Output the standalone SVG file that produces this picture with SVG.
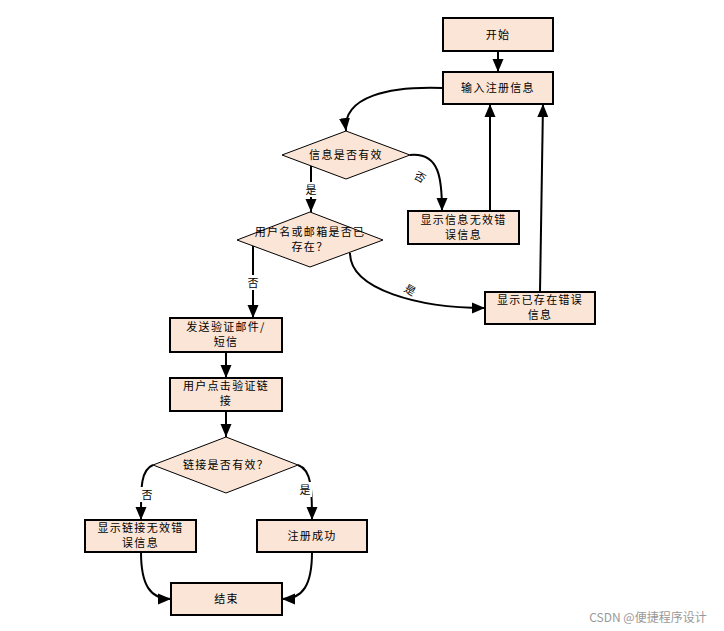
<svg xmlns="http://www.w3.org/2000/svg" width="724" height="631" viewBox="0 0 724 631">
<defs>
<style>
.box{fill:#fbe5d6;stroke:#000;stroke-width:2}
.dia{fill:#fbe5d6;stroke:#000;stroke-width:1}
.t{font-family:"Noto Sans CJK SC","Liberation Sans",sans-serif;font-size:11px;fill:#000;text-anchor:middle;letter-spacing:1.3px}
.lbl{font-family:"Noto Sans CJK SC","Liberation Sans",sans-serif;font-size:11px;fill:#000;text-anchor:middle}
.bg{fill:#fff}
.c{fill:none;stroke:#000;stroke-width:2}
</style>
<marker id="ah" markerUnits="userSpaceOnUse" markerWidth="14" markerHeight="14" viewBox="0 0 14 14" refX="13" refY="7" orient="auto">
<path d="M0,1.5 L13,7 L0,12.5 Z" fill="#000"/>
</marker>
</defs>
<rect width="724" height="631" fill="#fff"/>
<g id="connectors">
<path class="c" d="M498,51 L498,72" marker-end="url(#ah)"/>
<path class="c" d="M443,88 C390,86 342,96 346,131" marker-end="url(#ah)"/>
<path class="c" d="M410,155 C440,152 442,180 442,211" marker-end="url(#ah)"/>
<path class="c" d="M490,211 L490,104" marker-end="url(#ah)"/>
<path class="c" d="M540,292 L543,104" marker-end="url(#ah)"/>
<path class="c" d="M311,166 L311,212" marker-end="url(#ah)"/>
<path class="c" d="M253,246 L253,318" marker-end="url(#ah)"/>
<path class="c" d="M350,253 C350,290 420,308 485,308" marker-end="url(#ah)"/>
<path class="c" d="M226,352 L226,378" marker-end="url(#ah)"/>
<path class="c" d="M226,411 L226,437" marker-end="url(#ah)"/>
<path class="c" d="M153,465 C140,470 141,490 141,520" marker-end="url(#ah)"/>
<path class="c" d="M298,465 C312,470 312,490 312,520" marker-end="url(#ah)"/>
<path class="c" d="M141,552 C141,585 150,599 171,599" marker-end="url(#ah)"/>
<path class="c" d="M312,552 C312,585 303,599 282,599" marker-end="url(#ah)"/>
<rect class="bg" x="304" y="182" width="14" height="15"/>
<rect class="bg" x="246" y="275" width="14" height="15"/>
<rect class="bg" x="140" y="487" width="14" height="15"/>
<rect class="bg" x="298" y="482" width="14" height="15"/>
<text class="lbl" x="420" y="181" transform="rotate(30 420 177)">否</text>
<text class="lbl" x="311" y="194">是</text>
<text class="lbl" x="253" y="287">否</text>
<text class="lbl" x="410" y="294" transform="rotate(30 410 290)">是</text>
<text class="lbl" x="147" y="499">否</text>
<text class="lbl" x="305" y="494">是</text>
</g>
<g id="start"><rect class="box" x="443" y="18" width="110" height="33"/><text class="t" x="498" y="39">开始</text></g>
<g id="input"><rect class="box" x="443" y="72" width="110" height="32"/><text class="t" x="498" y="92">输入注册信息</text></g>
<g id="valid"><path class="dia" d="M346,131 L410,155 L346,179 L282,155 Z"/><text class="t" x="346" y="159">信息是否有效</text></g>
<g id="invalidMsg"><rect class="box" x="408" y="211" width="111" height="33"/><text class="t" x="463.5" y="224">显示信息无效错</text><text class="t" x="463.5" y="239">误信息</text></g>
<g id="exists"><path class="dia" d="M310,212 L383,240 L310,267 L237,240 Z"/><text class="t" x="310" y="236">用户名或邮箱是否已</text><text class="t" x="310" y="251">存在？</text></g>
<g id="existsMsg"><rect class="box" x="485" y="292" width="110" height="32"/><text class="t" x="540" y="304">显示已存在错误</text><text class="t" x="540" y="319">信息</text></g>
<g id="send"><rect class="box" x="170" y="318" width="112" height="34"/><text class="t" x="226" y="331">发送验证邮件/</text><text class="t" x="226" y="346">短信</text></g>
<g id="click"><rect class="box" x="170" y="378" width="112" height="33"/><text class="t" x="226" y="390">用户点击验证链</text><text class="t" x="226" y="405">接</text></g>
<g id="linkValid"><path class="dia" d="M226,437 L298,465 L226,493 L153,465 Z"/><text class="t" x="226" y="469">链接是否有效？</text></g>
<g id="linkInvalidMsg"><rect class="box" x="85" y="520" width="111" height="32"/><text class="t" x="140.5" y="532">显示链接无效错</text><text class="t" x="140.5" y="547">误信息</text></g>
<g id="success"><rect class="box" x="257" y="520" width="110" height="32"/><text class="t" x="312" y="540">注册成功</text></g>
<g id="end"><rect class="box" x="171" y="583" width="111" height="32"/><text class="t" x="226.5" y="603">结束</text></g>
<text x="648" y="622" font-family="'Noto Sans CJK SC','Liberation Sans',sans-serif" font-size="12" fill="#999" text-anchor="middle">CSDN @便捷程序设计</text>
</svg>
